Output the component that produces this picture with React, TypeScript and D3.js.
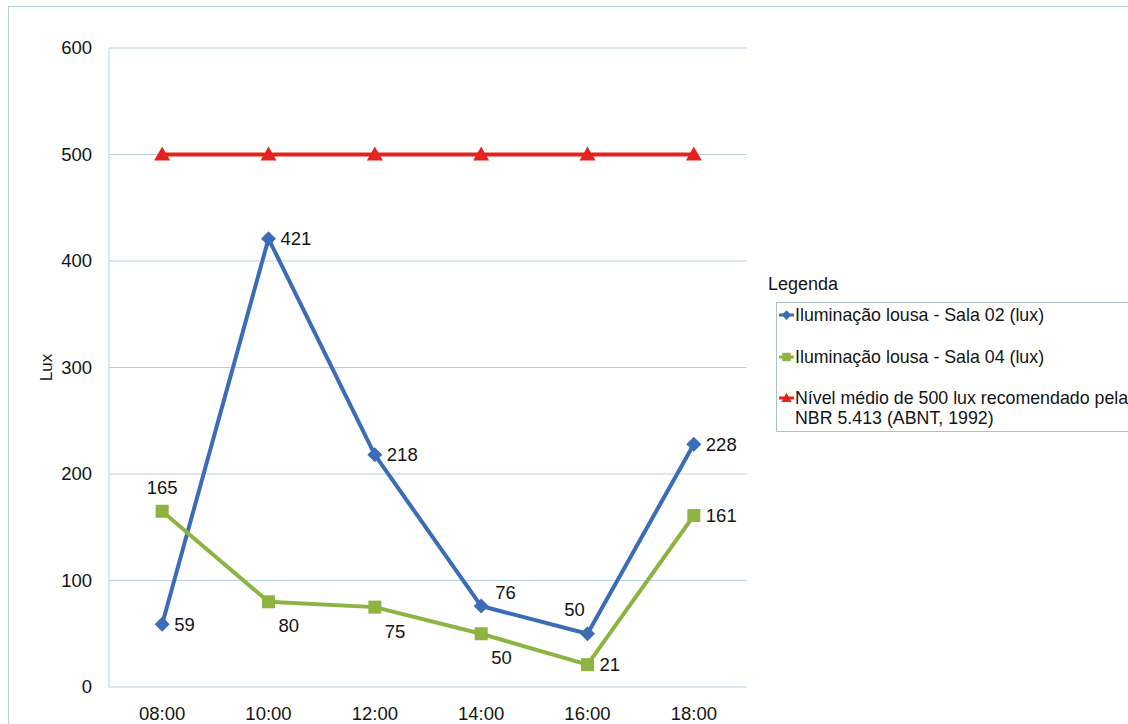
import React from "react";
import * as d3 from "d3";

const categories = ["08:00", "10:00", "12:00", "14:00", "16:00", "18:00"];
const sala02 = [59, 421, 218, 76, 50, 228];
const sala04 = [165, 80, 75, 50, 21, 161];
const nivel = [500, 500, 500, 500, 500, 500];
const yTicks = [0, 100, 200, 300, 400, 500, 600];
const sala02LabelPos = ["right", "right", "right", "aboveRight", "aboveLeft", "right"];
const sala04LabelPos = ["above", "belowRight", "belowRight", "belowRight", "right", "right"];
const legendNames = [
  ["Iluminação lousa - Sala 02 (lux)"],
  ["Iluminação lousa - Sala 04 (lux)"],
  ["Nível médio de 500 lux recomendado pela", "NBR 5.413 (ABNT, 1992)"],
];

const W = 1128, H = 724;
const plot = { left: 109, right: 747, top: 48, bottom: 687 };
const BLUE = "#3b6cb7";
const GREEN = "#8db441";
const RED = "#e5231e";
const GRID = "#b9d0e3";
const TEXT = "#141414";
const FONT = "'Liberation Sans', Arial, sans-serif";

function offset(pos: string): [number, number, string] {
  switch (pos) {
    case "right": return [12, 0, "start"];
    case "above": return [0, -24, "middle"];
    case "aboveRight": return [14, -14, "start"];
    case "aboveLeft": return [-13, -24, "middle"];
    case "belowRight": return [10, 24, "start"];
    default: return [12, 0, "start"];
  }
}

function marker(kind: string, x: number, y: number, color: string, s = 1) {
  if (kind === "diamond") {
    const r = 7.5 * s;
    return <path d={`M${x},${y - r}L${x + r},${y}L${x},${y + r}L${x - r},${y}Z`} fill={color} />;
  }
  if (kind === "square") {
    const r = 6.5 * s;
    return <rect x={x - r} y={y - r} width={2 * r} height={2 * r} fill={color} />;
  }
  const r = 8 * s;
  return <path d={`M${x},${y - r}L${x + r},${y + r * 0.75}L${x - r},${y + r * 0.75}Z`} fill={color} />;
}

export default function App() {
  const x = d3.scaleBand().domain(categories).range([plot.left, plot.right]);
  const y = d3.scaleLinear().domain([0, 600]).range([plot.bottom, plot.top]);
  const cx = (c: string) => (x(c) as number) + x.bandwidth() / 2;
  const line = d3.line<number>().x((_, i) => cx(categories[i])).y((d) => y(d));

  const series = [
    { data: sala02, color: BLUE, kind: "diamond", labels: sala02LabelPos },
    { data: sala04, color: GREEN, kind: "square", labels: sala04LabelPos },
    { data: nivel, color: RED, kind: "triangle", labels: null as string[] | null },
  ];

  const legendY = [315, 357, 398];

  return (
    <div style={{ position: "absolute", left: 0, top: 0 }}>
      <svg width={W} height={H} style={{ display: "block", fontFamily: FONT }}>
        <rect x={0} y={0} width={W} height={H} fill="#fff" />
        <rect x={8.5} y={6.5} width={W + 20} height={H + 20} fill="none" stroke={GRID} />
        {yTicks.map((t) => (
          <g key={t}>
            <line x1={plot.left} x2={plot.right} y1={y(t)} y2={y(t)} stroke={GRID} strokeWidth={1} />
            <text x={92} y={y(t)} dy="0.35em" textAnchor="end" fontSize={18.5} fill={TEXT}>{t}</text>
          </g>
        ))}
        <line x1={plot.left} x2={plot.left} y1={plot.top} y2={plot.bottom} stroke={GRID} />
        {categories.map((c) => (
          <text key={c} x={cx(c)} y={714} dy="0.35em" textAnchor="middle" fontSize={18.5} fill={TEXT}>{c}</text>
        ))}
        <text transform={`translate(46,${(plot.top + plot.bottom) / 2}) rotate(-90)`} textAnchor="middle" dy="0.35em" fontSize={17} fill={TEXT}>Lux</text>

        {series.map((s, si) => (
          <g key={si}>
            <path d={line(s.data) as string} fill="none" stroke={s.color} strokeWidth={4} strokeLinejoin="round" />
            {s.data.map((v, i) => (
              <g key={i}>{marker(s.kind, cx(categories[i]), y(v), s.color)}</g>
            ))}
            {s.labels && s.data.map((v, i) => {
              const [dx, dy, anchor] = offset(s.labels![i]);
              return (
                <text key={"l" + i} x={cx(categories[i]) + dx} y={y(v) + dy} dy="0.35em" textAnchor={anchor} fontSize={18.5} fill={TEXT}>{v}</text>
              );
            })}
          </g>
        ))}

        <text x={768} y={284} dy="0.35em" fontSize={18} fill={TEXT}>Legenda</text>
        <rect x={776.5} y={302.5} width={400} height={129} fill="#fff" stroke="#a9bfd2" />
        {series.map((s, i) => (
          <g key={"lg" + i}>
            <line x1={779} x2={794} y1={legendY[i]} y2={legendY[i]} stroke={s.color} strokeWidth={3} />
            {marker(s.kind, 786.5, legendY[i], s.color, 0.65)}
            {legendNames[i].map((t, j) => (
              <text key={j} x={795} y={legendY[i] + j * 20} dy="0.35em" fontSize={17.8} fill={TEXT}>{t}</text>
            ))}
          </g>
        ))}
      </svg>
    </div>
  );
}
